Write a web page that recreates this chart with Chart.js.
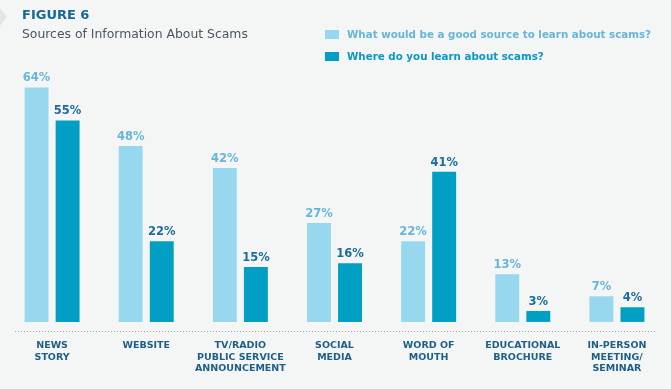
<!DOCTYPE html>
<html>
<head>
<meta charset="utf-8">
<script src="https://cdn.jsdelivr.net/npm/chart.js@4/dist/chart.umd.min.js"></script>
<style>
  html, body { margin: 0; padding: 0; background: #f4f6f6; }
  #wrap { width: 671px; height: 389px; position: relative; }
</style>
</head>
<body>
<div id="wrap"><canvas class="js-chart"></canvas></div>
<script>
const categories = [
  ['NEWS', 'STORY'],
  ['WEBSITE'],
  ['TV/RADIO', 'PUBLIC SERVICE', 'ANNOUNCEMENT'],
  ['SOCIAL', 'MEDIA'],
  ['WORD OF', 'MOUTH'],
  ['EDUCATIONAL', 'BROCHURE'],
  ['IN-PERSON', 'MEETING/', 'SEMINAR'],
];
const goodSource = [64, 48, 42, 27, 22, 13, 7];
const whereLearn = [55, 22, 15, 16, 41, 3, 4];
const seriesNames = [
  'What would be a good source to learn about scams?',
  'Where do you learn about scams?',
];

const LIGHT = '#98d8ee';
const DARK = '#009fc3';
const LIGHT_TEXT = '#66b6da';
const DARK_TEXT = '#1b6d9a';
const FONT = '"DejaVu Sans", sans-serif';

const ctx = document.querySelector('.js-chart').getContext('2d');

// value labels above bars, dotted baseline, title, subtitle and legend
const decorations = {
  id: 'decorations',
  afterDatasetsDraw(chart) {
    const c = chart.ctx;
    c.save();
    c.textAlign = 'center';
    c.textBaseline = 'alphabetic';
    c.font = 'bold 11.5px ' + FONT;
    chart.data.datasets.forEach((ds, i) => {
      c.fillStyle = i === 0 ? LIGHT_TEXT : DARK_TEXT;
      chart.getDatasetMeta(i).data.forEach((bar, j) => {
        c.fillText(ds.data[j] + '%', bar.x, bar.y - 6);
      });
    });

    // dotted baseline
    const yLine = Math.round(chart.chartArea.bottom) + 0.5;
    c.strokeStyle = '#a3a7aa';
    c.lineWidth = 1;
    c.setLineDash([1, 2]);
    c.beginPath();
    c.moveTo(15, yLine);
    c.lineTo(656, yLine);
    c.stroke();
    c.restore();
  },
  afterDraw(chart) {
    const c = chart.ctx;
    c.save();
    // small corner tab
    c.fillStyle = '#e3e5e5';
    c.beginPath();
    c.moveTo(0, 8);
    c.lineTo(7, 17);
    c.lineTo(0, 26);
    c.closePath();
    c.fill();

    c.textAlign = 'left';
    c.textBaseline = 'middle';
    c.fillStyle = '#17689a';
    c.font = 'bold 13px ' + FONT;
    c.fillText('FIGURE 6', 22, 16);
    c.fillStyle = '#4b5661';
    c.font = '12.4px ' + FONT;
    c.fillText('Sources of Information About Scams', 22, 35);

    c.font = 'bold 10.3px ' + FONT;
    c.fillStyle = LIGHT;
    c.fillRect(325, 30, 14, 9);
    c.fillStyle = LIGHT_TEXT;
    c.fillText(seriesNames[0], 347, 35);
    c.fillStyle = DARK;
    c.fillRect(325, 52, 14, 9);
    c.fillStyle = '#0b98c2';
    c.fillText(seriesNames[1], 347, 57);
    c.restore();
  },
};

new Chart(ctx, {
  type: 'bar',
  data: {
    labels: categories,
    datasets: [
      {
        label: seriesNames[0],
        data: goodSource,
        backgroundColor: LIGHT,
        categoryPercentage: 0.66,
        barPercentage: 0.77,
      },
      {
        label: seriesNames[1],
        data: whereLearn,
        backgroundColor: DARK,
        categoryPercentage: 0.66,
        barPercentage: 0.77,
      },
    ],
  },
  options: {
    responsive: true,
    maintainAspectRatio: false,
    animation: false,
    layout: { padding: { top: 60, left: 5, right: 7, bottom: 14 } },
    plugins: {
      legend: { display: false },
      tooltip: { enabled: false },
    },
    scales: {
      y: {
        display: false,
        min: -2.5,
        max: 71.5,
      },
      x: {
        grid: { display: false },
        border: { display: false },
        ticks: {
          color: '#1d5f87',
          padding: 0,
          maxRotation: 0,
          autoSkip: false,
          font: { family: FONT, size: 9.5, weight: 'bold', lineHeight: 1.26 },
        },
      },
    },
  },
  plugins: [decorations],
});
</script>
</body>
</html>
